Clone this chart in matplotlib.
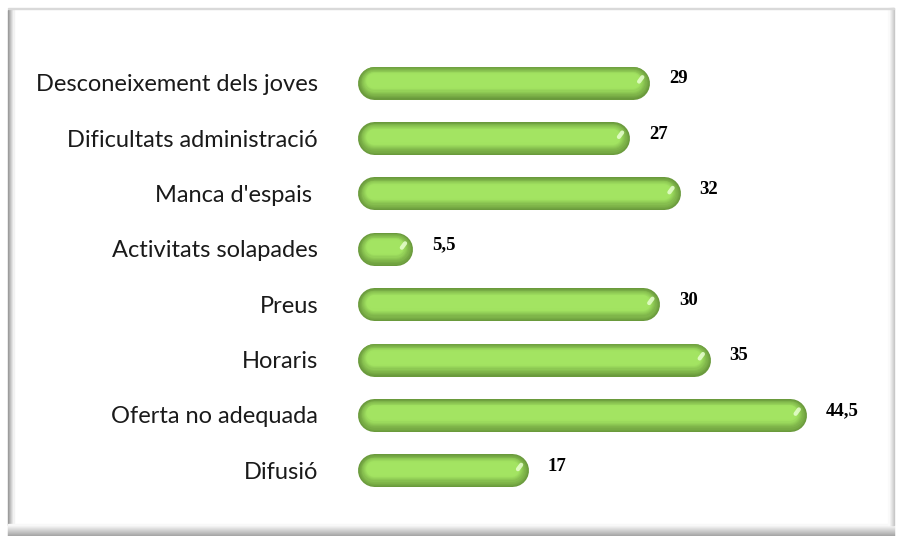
import matplotlib
matplotlib.use("Agg")
import matplotlib.pyplot as plt
from matplotlib.patches import Rectangle
from matplotlib.colors import to_rgb
import numpy as np

categories = ["Desconeixement dels joves", "Dificultats administració", "Manca d'espais ",
              "Activitats solapades", "Preus", "Horaris", "Oferta no adequada", "Difusió"]
values = [29, 27, 32, 5.5, 30, 35, 44.5, 17]
value_labels = ["29", "27", "32", "5,5", "30", "35", "44,5", "17"]

W, H = 899, 536
fig = plt.figure(figsize=(W / 100, H / 100), dpi=100)
fig.patch.set_facecolor("white")

# frame shadows
for i in range(6):
    c = 0.6 + i * 0.07
    fig.patches.append(Rectangle(((8 + i) / W, 1 - 525 / H), 1 / W, 515 / H,
                                 transform=fig.transFigure, color=str(min(c, 1)), zorder=0))
for i in range(12):
    c = 0.62 + i * 0.032
    y = 535 - i
    fig.patches.append(Rectangle((8 / W, 1 - (y + 1) / H), 886 / W, 1 / H,
                                 transform=fig.transFigure, color=str(min(c, 1)), zorder=0))
for i in range(6):
    c = 0.78 + i * 0.04
    fig.patches.append(Rectangle(((893 - i) / W, 1 - 525 / H), 1 / W, 517 / H,
                                 transform=fig.transFigure, color=str(min(c, 1)), zorder=0))
fig.patches.append(Rectangle((8 / W, 1 - 9 / H), 886 / W, 1 / H,
                             transform=fig.transFigure, color="0.85", zorder=0))

ax = fig.add_axes([357 / W, 1 - 498 / H, 525 / W, 443 / H])
ax.set_facecolor("none")
ax.set_xlim(0, 52)
ax.set_ylim(len(categories) - 0.5, -0.5)

bar_px = 33
lw_full = bar_px * 72 / 100
px_per_unit = 525 / 52
r_units = (bar_px / 2) / px_per_unit
unit_y = 443 / 8  # px per category

dark = np.array(to_rgb("#6a9a3c"))
light = np.array(to_rgb("#a3e462"))
n = 14
for i, v in enumerate(values):
    x0 = r_units
    x1 = max(v - r_units, r_units + 0.01)
    for k in range(n):
        t = k / (n - 1)
        frac = 1.0 - 0.85 * t
        col = dark + (light - dark) * min(1, t * 1.6)
        dy = -t * 2.5 / unit_y
        ax.plot([x0, x1], [i + dy, i + dy], color=col, lw=lw_full * frac,
                solid_capstyle="round", zorder=2)
    # highlight at right end
    ax.plot([x1 + r_units * 0.35, x1 + r_units * 0.55], [i - 0.02, i - 0.1],
            color="#e8ffd0", lw=3, solid_capstyle="round", zorder=3, alpha=0.85)
    ax.text(v + 1.9, i - 0.07, value_labels[i], ha="left", va="center",
            fontsize=13.5, family="Liberation Serif", fontweight="bold", color="black")

ax.set_yticks(range(len(categories)))
ax.set_yticklabels(categories, fontsize=17, family="Lato", color="#1a1a1a")
ax.tick_params(axis="y", length=0, pad=28)
ax.set_xticks([])
for s in ax.spines.values():
    s.set_visible(False)

fig.savefig("out.png", dpi=100)
